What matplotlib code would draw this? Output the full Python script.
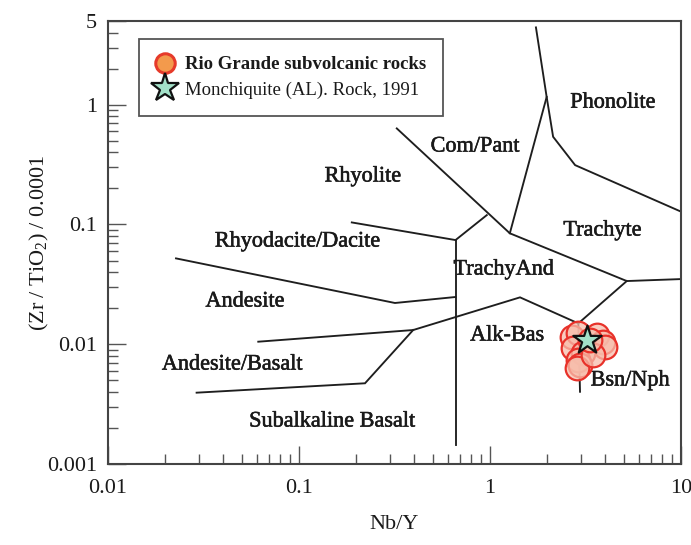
import matplotlib
matplotlib.use('Agg')
import matplotlib.pyplot as plt
import matplotlib.patheffects as pe
from matplotlib.lines import Line2D
from matplotlib.ticker import FixedLocator, FixedFormatter, LogLocator, NullFormatter

plt.rcParams['font.family'] = ['Liberation Serif', 'DejaVu Serif']
plt.rcParams['mathtext.default'] = 'regular'

# ---- field boundaries (Nb/Y, Zr/TiO2*0.0001) ----
phon_x = [1.74, 1.98, 2.14, 2.79, 10]
phon_y = [4.42, 1.16, 0.54, 0.313, 0.128]
compant_x = [1.98, 1.27]
compant_y = [1.16, 0.0844]
rhyol_x = [0.325, 1.27, 5.2, 10]
rhyol_y = [0.634, 0.0844, 0.0337, 0.035]
rhyod_x = [0.189, 0.66, 0.962]
rhyod_y = [0.104, 0.0741, 0.1197]
vert_x = [0.66, 0.66]
vert_y = [0.0741, 0.00144]
andes_x = [0.0227, 0.318, 0.66]
andes_y = [0.0521, 0.0221, 0.0248]
alkbas_x = [0.0612, 0.396, 1.436, 2.90, 5.2]
alkbas_y = [0.0105, 0.01314, 0.02463, 0.01493, 0.0337]
bsn_x = [2.90, 2.96]
bsn_y = [0.01493, 0.00401]
subalk_x = [0.0291, 0.2216, 0.396]
subalk_y = [0.00394, 0.00472, 0.01314]

# ---- samples ----
rio_x = [2.68, 2.89, 3.62, 3.91, 4.00, 2.72, 3.07, 2.89, 2.96, 2.84, 3.46, 3.34]
rio_y = [0.01155, 0.0124, 0.01194, 0.0105, 0.00953, 0.0093, 0.00844, 0.00738,
         0.0067, 0.00633, 0.00813, 0.01084]
mon_x = [3.21]
mon_y = [0.01084]

# ---- field labels ----
field_names = ['Phonolite', 'Com/Pant', 'Rhyolite', 'Trachyte', 'Rhyodacite/Dacite',
               'TrachyAnd', 'Andesite', 'Alk-Bas', 'Andesite/Basalt', 'Bsn/Nph',
               'Subalkaline Basalt']
field_x = [4.40, 0.835, 0.216, 3.88, 0.0982, 1.18, 0.0521, 1.228, 0.0446, 5.41, 0.149]
field_y = [1.03, 0.443, 0.249, 0.0881, 0.0713, 0.0416, 0.0225, 0.0117, 0.0067, 0.00493, 0.00224]

xticks = [0.01, 0.1, 1, 10]
xtick_labels = ['0.01', '0.1', '1', '10']
yticks = [0.001, 0.01, 0.1, 1, 5]
ytick_labels = ['0.001', '0.01', '0.1', '1', '5']

fig = plt.figure(figsize=(6.91, 5.45), dpi=100)
ax = fig.add_axes([108/691, 1-464/545, 573/691, 443/545])
ax.set_xscale('log')
ax.set_yscale('log')
ax.set_xlim(0.01, 10)
ax.set_ylim(0.001, 5)

thick = [pe.withStroke(linewidth=0.4, foreground='#1a1a1a')]

lc = '#1e1e1e'
lw = 1.35
for xs, ys in [(phon_x, phon_y), (compant_x, compant_y), (rhyol_x, rhyol_y),
               (rhyod_x, rhyod_y), (vert_x, vert_y), (andes_x, andes_y),
               (alkbas_x, alkbas_y), (bsn_x, bsn_y), (subalk_x, subalk_y)]:
    ax.plot(xs, ys, color=lc, lw=lw, solid_joinstyle='miter', zorder=2)

for name, x, y in zip(field_names, field_x, field_y):
    ax.text(x, y, name, ha='center', va='center', fontsize=16, color='#1a1a1a',
            zorder=3, path_effects=thick)

ax.scatter(rio_x, rio_y, s=290, facecolor=(0.97, 0.74, 0.67, 0.75),
           edgecolor='#e8322a', linewidth=1.6, zorder=4)
ax.scatter(mon_x, mon_y, s=460, marker='*', facecolor='#a3e0c8',
           edgecolor='#111111', linewidth=1.6, zorder=5)

ax.xaxis.set_major_locator(FixedLocator(xticks))
ax.xaxis.set_major_formatter(FixedFormatter(xtick_labels))
ax.xaxis.set_minor_locator(LogLocator(base=10, subs=range(2, 10)))
ax.xaxis.set_minor_formatter(NullFormatter())
ax.yaxis.set_major_locator(FixedLocator(yticks))
ax.yaxis.set_major_formatter(FixedFormatter(ytick_labels))
ax.yaxis.set_minor_locator(LogLocator(base=10, subs=range(2, 10)))
ax.yaxis.set_minor_formatter(NullFormatter())

ax.tick_params(which='both', direction='in', color='#555555', width=1.0,
               labelsize=16, labelcolor='#1a1a1a', top=False, right=False)
ax.tick_params(which='major', length=13)
ax.tick_params(which='minor', length=7)
ax.tick_params(axis='x', which='major', pad=11)
ax.tick_params(axis='y', which='major', pad=8)
for sp in ax.spines.values():
    sp.set_color('#444444')
    sp.set_linewidth(1.5)

ax.set_xlabel('Nb/Y', fontsize=16, labelpad=12, color='#1a1a1a')
ax.set_ylabel('(Zr / TiO$_2$) / 0.0001', fontsize=16, color='#1a1a1a')
ax.yaxis.set_label_coords(-0.100, 0.5)

h1 = Line2D([], [], ls='', marker='o', ms=14, mfc='#f39a4c', mec='#e63a2a', mew=2.2)
h2 = Line2D([], [], ls='', marker='*', ms=21, mfc='#a3e0c8', mec='#111111', mew=1.6)
leg = ax.legend([h1, h2], ['Rio Grande subvolcanic rocks', 'Monchiquite (AL). Rock, 1991'],
                loc='upper left', bbox_to_anchor=(0.054, 0.959), borderaxespad=0,
                fancybox=False, edgecolor='#555555', framealpha=1, fontsize=13.5,
                handlelength=1.0, handletextpad=0.55, borderpad=0.9, labelspacing=0.45)
leg.get_frame().set_linewidth(1.3)
leg.get_texts()[0].set_fontweight('bold')
for t in leg.get_texts():
    t.set_color('#1a1a1a')

fig.savefig('out.png', dpi=100)
